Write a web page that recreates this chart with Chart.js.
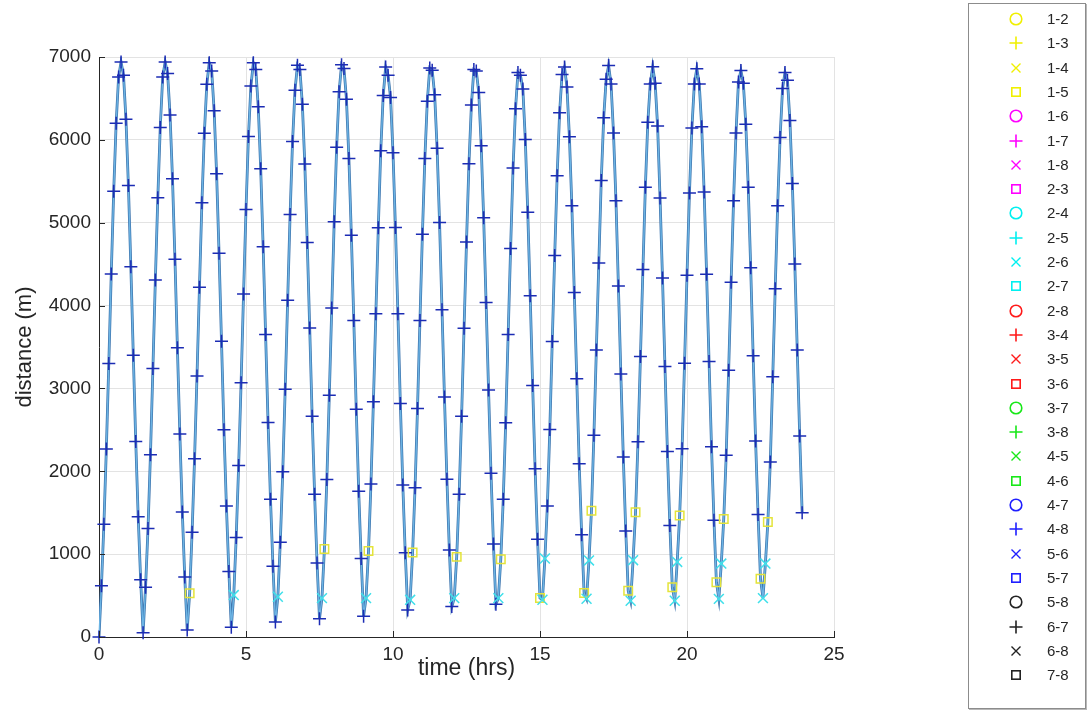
<!DOCTYPE html>
<html>
<head>
<meta charset="utf-8">
<script src="https://cdn.jsdelivr.net/npm/chart.js@4.4.1/dist/chart.umd.min.js"></script>
<style>
html,body{margin:0;padding:0;background:#fff;}
#wrap{position:relative;width:1088px;height:712px;overflow:hidden;background:#fff;}
#c{position:absolute;left:0;top:0;}
#legend{position:absolute;left:968px;top:3px;width:116px;height:704px;border:1px solid #8c8c8c;box-shadow:1px 1px 0 #b8b8b8;background:#fff;}
.row{position:absolute;left:0;width:116px;height:24px;font:15px "Liberation Sans",Arial,Helvetica,sans-serif;color:#262626;}
.row svg{position:absolute;left:37px;top:2px;}
.row span{position:absolute;left:78px;top:3px;line-height:18px;}
</style>
</head>
<body>
<div id="wrap">
  <canvas id="c" width="1088" height="712"></canvas>
  <div id="legend"></div>
</div>
<script>
// ---- data ----
const stepMinutes = 5;           // sampling interval of the distance record
const xTickValues = [0, 5, 10, 15, 20, 25];
const yTickValues = [0, 1000, 2000, 3000, 4000, 5000, 6000, 7000];

// distance (m) at each 5-minute sample
const distance = [
  0, 620, 1360, 2270, 3300, 4380, 5380, 6200, 6760, 6940, 6780, 6250, 5450, 4470, 3400, 2360, 1450, 690, 50,
  600, 1310, 2200, 3240, 4310, 5300, 6150, 6760, 6940, 6800, 6300, 5530, 4560, 3490, 2450, 1510, 725, 85,
  527, 1265, 2150, 3150, 4220, 5240, 6080, 6670, 6930, 6830, 6350, 5590, 4630, 3570, 2500, 1580, 790, 118,
  506, 1200, 2070, 3070, 4140, 5160, 6040, 6650, 6930, 6850, 6400, 5650, 4710, 3650, 2590, 1661, 853, 180,
  486, 1143, 1995, 2990, 4065, 5100, 5980, 6600, 6900, 6850, 6430, 5710, 4760, 3730, 2665, 1722, 894, 220,
  469, 1061, 1900, 2919, 3972, 5012, 5912, 6582, 6905, 6860, 6490, 5775, 4850, 3820, 2750, 1760, 947, 249,
  469, 1037, 1848, 2840, 3900, 4940, 5870, 6535, 6880, 6780, 6510, 5843, 4942, 3900, 2818, 1834, 1016, 327,
  449, 1020, 1801, 2757, 3820, 4860, 5774, 6467, 6868, 6840, 6545, 5898, 5002, 3949, 2896, 1903, 1049, 367,
  469, 967, 1722, 2665, 3727, 4767, 5713, 6420, 6850, 6830, 6573, 5930, 5060, 4036, 2980, 1977, 1122, 396,
  469, 939, 1661, 2587, 3650, 4690, 5660, 6374, 6813, 6780, 6614, 6005, 5127, 4120, 3035, 2032, 1180, 470,
  450, 947, 1580, 2503, 3566, 4605, 5566, 6328, 6790, 6880, 6637, 6037, 5206, 4157, 3118, 2092, 1233, 531, 462, 924, 1524,
  2434, 3464, 4513, 5510, 6268, 6730, 6896, 6674, 6083, 5266, 4236, 3173, 2171, 1279, 559, 437, 927, 1506,
  2356, 3386, 4434, 5427, 6212, 6674, 6882, 6684, 6166, 5298, 4333, 3266, 2240, 1347, 600, 437, 906, 1465,
  2272, 3303, 4365, 5358, 6143, 6674, 6859, 6674, 6157, 5372, 4379, 3326, 2296, 1409, 661, 460, 886, 1424,
  2194, 3219, 4282, 5266, 6083, 6698, 6836, 6684, 6189, 5427, 4457, 3395, 2365, 1478, 702, 469, 886, 1388,
  2111, 3141, 4203, 5206, 6028, 6619, 6813, 6720, 6235, 5473, 4503, 3464, 2425, 1501
];

// samples whose marker belongs to pair 1-5 (yellow square) or 2-6 (cyan x); all others are 4-8 / 6-7 (+)
const squareSteps = [37, 92, 110, 128, 146, 164, 180, 198, 201, 216, 219, 234, 237, 252, 255, 270, 273];
const crossSteps  = [55, 73, 91, 109, 127, 145, 163, 181, 182, 199, 200, 217, 218, 235, 236, 253, 254, 271, 272];

// legend entries
const pairLabels  = ['1-2','1-3','1-4','1-5','1-6','1-7','1-8','2-3','2-4','2-5','2-6','2-7','2-8','3-4',
                     '3-5','3-6','3-7','3-8','4-5','4-6','4-7','4-8','5-6','5-7','5-8','6-7','6-8','7-8'];
const pairColors  = ['#f0f000','#f0f000','#f0f000','#f0f000','#ff00ff','#ff00ff','#ff00ff','#ff00ff',
                     '#00f0f0','#00f0f0','#00f0f0','#00f0f0','#ff1a1a','#ff1a1a','#ff1a1a','#ff1a1a',
                     '#18e818','#18e818','#18e818','#18e818','#1f1fff','#1f1fff','#1f1fff','#1f1fff',
                     '#222222','#222222','#222222','#222222'];
const pairMarkers = ['o','+','x','s','o','+','x','s','o','+','x','s','o','+','x','s','o','+','x','s','o','+','x','s','o','+','x','s'];

// ---- chart ----
const FONT = '"Liberation Sans", Arial, Helvetica, sans-serif';
const points = distance.map((v, i) => ({x: i * stepMinutes / 60, y: v}));
const kind = i => squareSteps.includes(i) ? 's' : (crossSteps.includes(i) ? 'x' : '+');
const styleOf = {'+': 'cross', 'x': 'crossRot', 's': 'rect'};
const radiusOf = {'+': 6.5, 'x': 7, 's': 6};
const colorOf = {'+': '#1c2cb4', 'x': '#3fe0ea', 's': '#e4e43a'};

const inwardTicks = {
  id: 'inwardTicks',
  afterDraw(chart) {
    const {ctx, chartArea: a, scales: {x, y}} = chart;
    ctx.save();
    ctx.strokeStyle = '#262626';
    ctx.lineWidth = 1;
    ctx.beginPath();
    xTickValues.forEach(v => {
      const px = Math.round(x.getPixelForValue(v)) + 0.5;
      ctx.moveTo(px, a.bottom); ctx.lineTo(px, a.bottom - 6);
    });
    yTickValues.forEach(v => {
      const py = Math.round(y.getPixelForValue(v)) + 0.5;
      ctx.moveTo(a.left, py); ctx.lineTo(a.left + 6, py);
    });
    ctx.stroke();
    ctx.restore();
  }
};

new Chart(document.getElementById('c'), {
  type: 'scatter',
  data: {
    datasets: [
      {
        label: 'distance markers',
        data: points,
        showLine: true,
        borderColor: '#6cb4e4',
        borderWidth: 1.4,
        pointStyle: c => styleOf[kind(c.dataIndex)],
        pointRadius: c => radiusOf[kind(c.dataIndex)],
        pointBorderColor: c => colorOf[kind(c.dataIndex)],
        pointBackgroundColor: 'rgba(0,0,0,0)',
        pointBorderWidth: 1.5,
        clip: false,
        order: 0
      },
      {
        label: 'distance',
        data: points,
        showLine: true,
        borderColor: '#3d74ad',
        borderWidth: 2.8,
        pointRadius: 0,
        order: 1
      }
    ]
  },
  options: {
    responsive: false,
    animation: false,
    events: [],
    layout: {padding: {left: 0, right: 254, top: 57, bottom: 0}},
    plugins: {legend: {display: false}, tooltip: {enabled: false}},
    scales: {
      x: {
        type: 'linear', min: 0, max: 25,
        afterBuildTicks: s => { s.ticks = xTickValues.map(v => ({value: v})); },
        afterFit: s => { s.height = 75; },
        ticks: {padding: 6, color: '#262626', font: {family: FONT, size: 19}, callback: v => String(v)},
        grid: {color: '#e3e3e3', drawTicks: false},
        border: {color: '#262626', width: 1},
        title: {display: true, text: 'time (hrs)', color: '#262626', font: {family: FONT, size: 23}, padding: {top: 0, bottom: 30}}
      },
      y: {
        type: 'linear', min: 0, max: 7000,
        afterBuildTicks: s => { s.ticks = yTickValues.map(v => ({value: v})); },
        afterFit: s => { s.width = 99; },
        ticks: {padding: 8, color: '#262626', font: {family: FONT, size: 19}, callback: v => String(v)},
        grid: {color: '#e3e3e3', drawTicks: false},
        border: {color: '#262626', width: 1},
        title: {display: true, text: 'distance (m)', color: '#262626', font: {family: FONT, size: 22}, padding: {top: 12, bottom: 0}}
      }
    }
  },
  plugins: [inwardTicks]
});

// ---- legend ----
const legend = document.getElementById('legend');
const rowStep = 24.3;
pairLabels.forEach((lab, k) => {
  const c = pairColors[k], m = pairMarkers[k];
  let shape = '';
  if (m === 'o') shape = `<circle cx="10" cy="10" r="5.8" fill="none" stroke="${c}" stroke-width="1.6"/>`;
  if (m === '+') shape = `<path d="M3.5 10H16.5M10 3.5V16.5" stroke="${c}" stroke-width="1.6" fill="none"/>`;
  if (m === 'x') shape = `<path d="M5.5 5.5L14.5 14.5M14.5 5.5L5.5 14.5" stroke="${c}" stroke-width="1.4" fill="none"/>`;
  if (m === 's') shape = `<rect x="5.8" y="5.8" width="8.4" height="8.4" fill="none" stroke="${c}" stroke-width="1.6"/>`;
  const row = document.createElement('div');
  row.className = 'row';
  row.style.top = (3 + rowStep * k) + 'px';
  row.innerHTML = `<svg width="20" height="20" viewBox="0 0 20 20">${shape}</svg><span>${lab}</span>`;
  legend.appendChild(row);
});
</script>
</body>
</html>
